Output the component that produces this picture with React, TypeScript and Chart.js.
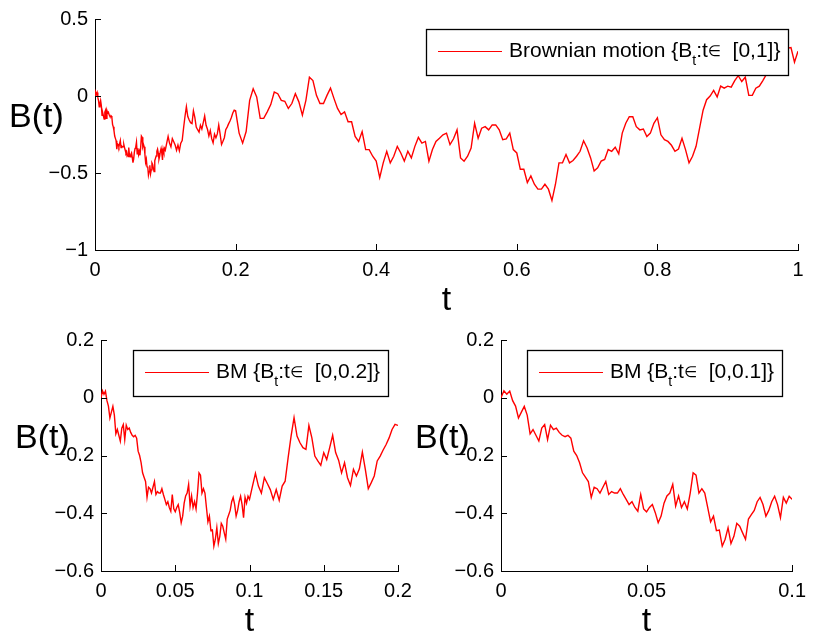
import React, { useEffect, useRef } from "react";
import { Chart, registerables } from "chart.js";

Chart.register(...registerables);

// ---------- DATA (one Brownian path) ----------
// B(t) for t = 0 .. 0.1, step 0.001
const STEP_EARLY = 0.001;
const pathEarly = [
  0.0, 0.024, 0.012, 0.023, -0.01, -0.029, -0.07, -0.05, -0.03, -0.06,
  -0.125, -0.11, -0.13, -0.15, -0.105, -0.093, -0.145, -0.095, -0.11, -0.105,
  -0.12, -0.13, -0.135, -0.13, -0.14, -0.185, -0.2, -0.225, -0.26, -0.275,
  -0.29, -0.345, -0.31, -0.315, -0.33, -0.31, -0.29, -0.335, -0.325, -0.33,
  -0.33, -0.315, -0.335, -0.352, -0.37, -0.36, -0.38, -0.393, -0.335, -0.385,
  -0.395, -0.38, -0.37, -0.398, -0.433, -0.41, -0.365, -0.34, -0.33, -0.3,
  -0.375, -0.34, -0.38, -0.36, -0.385, -0.33, -0.26, -0.268, -0.33, -0.315,
  -0.33, -0.38, -0.43, -0.41, -0.46, -0.458, -0.514, -0.49, -0.45, -0.505,
  -0.48, -0.435, -0.445, -0.468, -0.49, -0.42, -0.405, -0.39, -0.36, -0.345,
  -0.37, -0.41, -0.39, -0.36, -0.341, -0.37, -0.415, -0.345, -0.365, -0.341,
  -0.352,
];
// B(t) for t = 0.102 .. 0.2, step 0.002
const START_MID = 0.1;
const STEP_MID = 0.002;
const pathMid = [
  -0.306, -0.262, -0.306, -0.33, -0.277, -0.297, -0.318, -0.352, -0.318, -0.355,
  -0.306, -0.289, -0.208, -0.133, -0.069, -0.133, -0.156, -0.173, -0.179, -0.096,
  -0.139, -0.202, -0.219, -0.234, -0.19, -0.214, -0.173, -0.13, -0.19, -0.216,
  -0.26, -0.225, -0.277, -0.304, -0.248, -0.271, -0.246, -0.188, -0.248, -0.315,
  -0.294, -0.271, -0.219, -0.202, -0.181, -0.162, -0.139, -0.11, -0.092, -0.096,
];
// B(t) for t = 0.205 .. 1, step 0.005
const START_LATE = 0.2;
const STEP_LATE = 0.005;
const pathLate = [
  -0.241, -0.306, -0.231, -0.028, 0.047, -0.006, -0.145, -0.145, -0.103, -0.056,
  0.026, 0.015, -0.028, -0.034, -0.081, -0.049, 0.015, -0.038, -0.124, -0.028,
  0.122, 0.1, 0.004, -0.049, -0.049, 0.004, 0.051, -0.017, -0.081, -0.12,
  -0.103, -0.167, -0.167, -0.263, -0.295, -0.231, -0.348, -0.348, -0.391, -0.423,
  -0.53, -0.434, -0.359, -0.434, -0.391, -0.327, -0.37, -0.423, -0.359, -0.402,
  -0.327, -0.269, -0.306, -0.295, -0.423, -0.348, -0.295, -0.274, -0.252, -0.241,
  -0.316, -0.278, -0.22, -0.402, -0.423, -0.391, -0.338, -0.177, -0.274, -0.209,
  -0.199, -0.22, -0.188, -0.188, -0.22, -0.284, -0.278, -0.241, -0.348, -0.37,
  -0.476, -0.476, -0.562, -0.519, -0.573, -0.605, -0.605, -0.573, -0.605, -0.679,
  -0.573, -0.434, -0.434, -0.38, -0.434, -0.419, -0.391, -0.359, -0.291, -0.338,
  -0.402, -0.487, -0.466, -0.423, -0.412, -0.348, -0.359, -0.333, -0.376, -0.241,
  -0.177, -0.135, -0.135, -0.199, -0.22, -0.214, -0.263, -0.241, -0.177, -0.141,
  -0.252, -0.284, -0.295, -0.32, -0.359, -0.344, -0.274, -0.348, -0.434, -0.391,
  -0.327, -0.209, -0.092, -0.024, 0.0, 0.036, -0.006, 0.064, 0.051, 0.064,
  0.058, 0.1, 0.132, 0.094, 0.122, 0.004, 0.004, 0.051, 0.064, 0.1,
  0.14, 0.17, 0.2, 0.22, 0.26, 0.28, 0.31, 0.314, 0.22, 0.29,
];

// tick labels
const topXTicks = [0, 0.2, 0.4, 0.6, 0.8, 1];
const topYTicks = [-1, -0.5, 0, 0.5];
const leftXTicks = [0, 0.05, 0.1, 0.15, 0.2];
const rightXTicks = [0, 0.05, 0.1];
const bottomYTicks = [-0.6, -0.4, -0.2, 0, 0.2];

// legend texts: pre, subscript, middle, symbol, post
const legendTop = ["Brownian motion {B", "t", ":t", "\u2208", "  [0,1]}"];
const legendLeft = ["BM {B", "t", ":t", "\u2208", "  [0,0.2]}"];
const legendRight = ["BM {B", "t", ":t", "\u2208", "  [0,0.1]}"];

const yTitle = "B(t)";
const xTitle = "t";

// ---------- build point lists ----------
const ptsEarly = pathEarly.map((y, i) => ({ x: i * STEP_EARLY, y }));
const ptsMid = pathMid.map((y, i) => ({ x: START_MID + (i + 1) * STEP_MID, y }));
const ptsLate = pathLate.map((y, i) => ({ x: START_LATE + (i + 1) * STEP_LATE, y }));
const fullPath = [...ptsEarly, ...ptsMid, ...ptsLate];
const firstFifth = [...ptsEarly, ...ptsMid];
const firstTenth = [...ptsEarly];

const FONT = '"Liberation Sans", Arial, Helvetica, sans-serif';
const RED = "#ff0000";

const fmt = (v: number) => String(Math.round(v * 1000) / 1000).replace("-", "\u2212");

type PanelProps = {
  left: number;
  top: number;
  width: number;
  height: number;
  yWidth: number;
  xHeight: number;
  padTop: number;
  padRight: number;
  points: { x: number; y: number }[];
  xTicks: number[];
  yTicks: number[];
  xMin: number;
  xMax: number;
  yMin: number;
  yMax: number;
  legend: string[];
};

function Panel(p: PanelProps) {
  const ref = useRef<HTMLCanvasElement>(null);
  useEffect(() => {
    const decor = {
      id: "decor",
      afterDatasetsDraw(chart: any) {
        const { ctx, chartArea: ca } = chart;
        const xs = chart.scales.x;
        const ys = chart.scales.y;
        ctx.save();
        // inward tick marks
        ctx.strokeStyle = "#000";
        ctx.lineWidth = 1;
        ctx.beginPath();
        p.xTicks.forEach((v) => {
          const px = Math.round(xs.getPixelForValue(v)) + 0.5;
          ctx.moveTo(px, ca.bottom);
          ctx.lineTo(px, ca.bottom - 6);
        });
        p.yTicks.forEach((v) => {
          const py = Math.round(ys.getPixelForValue(v)) + 0.5;
          ctx.moveTo(ca.left, py);
          ctx.lineTo(ca.left + 6, py);
        });
        ctx.stroke();

        // axis titles
        ctx.fillStyle = "#000";
        ctx.font = `34px ${FONT}`;
        ctx.textBaseline = "alphabetic";
        ctx.textAlign = "left";
        ctx.fillText(yTitle, ca.left - 86, (ca.top + ca.bottom) / 2 - 7.5);
        ctx.textAlign = "center";
        ctx.fillText(xTitle, (ca.left + ca.right) / 2, ca.bottom + 60);

        // legend box
        const [pre, sub, mid, sym, post] = p.legend;
        const fs = 21;
        const mainFont = `${fs}px ${FONT}`;
        const subFont = `14px ${FONT}`;
        const symFont = `15px "DejaVu Sans", ${FONT}`;
        ctx.textAlign = "left";
        ctx.font = mainFont;
        const w1 = ctx.measureText(pre).width;
        const w3 = ctx.measureText(mid).width;
        const w5 = ctx.measureText(post).width;
        ctx.font = subFont;
        const w2 = ctx.measureText(sub).width;
        ctx.font = symFont;
        const w4 = ctx.measureText(sym).width;
        const textW = w1 + w2 + w3 + w4 + w5;
        const boxW = Math.round(12 + 64 + 7 + textW + 8);
        const boxH = 46;
        const bx = Math.round(ca.right - 10 - boxW);
        const by = Math.round(ca.top + 10);
        ctx.fillStyle = "#fff";
        ctx.fillRect(bx, by, boxW, boxH);
        ctx.strokeStyle = "#000";
        ctx.lineWidth = 1.3;
        ctx.strokeRect(bx + 0.5, by + 0.5, boxW, boxH);
        ctx.strokeStyle = RED;
        ctx.lineWidth = 1;
        ctx.beginPath();
        ctx.moveTo(bx + 12, by + 22.5);
        ctx.lineTo(bx + 76, by + 22.5);
        ctx.stroke();
        ctx.fillStyle = "#000";
        let tx = bx + 83;
        const base = by + 27.5;
        ctx.font = mainFont;
        ctx.fillText(pre, tx, base);
        tx += w1;
        ctx.font = subFont;
        ctx.fillText(sub, tx, base + 8);
        tx += w2;
        ctx.font = mainFont;
        ctx.fillText(mid, tx, base);
        tx += w3;
        ctx.font = symFont;
        ctx.fillText(sym, tx, base - 1);
        tx += w4;
        ctx.font = mainFont;
        ctx.fillText(post, tx, base);
        ctx.restore();
      },
    };

    const tickFont = { family: FONT, size: 20 };
    const chart = new Chart(ref.current as HTMLCanvasElement, {
      type: "line",
      data: {
        datasets: [
          {
            data: p.points as any,
            borderColor: RED,
            borderWidth: 1.4,
            pointRadius: 0,
            tension: 0,
            fill: false,
          },
        ],
      },
      options: {
        animation: false,
        responsive: false,
        maintainAspectRatio: false,
        events: [],
        layout: { padding: { left: 0, top: p.padTop, right: p.padRight, bottom: 0 } },
        plugins: { legend: { display: false }, tooltip: { enabled: false } },
        scales: {
          x: {
            type: "linear",
            min: p.xMin,
            max: p.xMax,
            afterBuildTicks: (s: any) => {
              s.ticks = p.xTicks.map((v) => ({ value: v }));
            },
            afterFit: (s: any) => {
              s.height = p.xHeight;
            },
            grid: { drawOnChartArea: false, drawTicks: false, color: "#000" },
            border: { color: "#000", width: 1 },
            ticks: {
              padding: 8,
              color: "#000",
              font: tickFont,
              maxRotation: 0,
              autoSkip: false,
              callback: (v: any) => fmt(Number(v)),
            },
          },
          y: {
            type: "linear",
            min: p.yMin,
            max: p.yMax,
            afterBuildTicks: (s: any) => {
              s.ticks = p.yTicks.map((v) => ({ value: v }));
            },
            afterFit: (s: any) => {
              s.width = p.yWidth;
            },
            grid: { drawOnChartArea: false, drawTicks: false, color: "#000" },
            border: { color: "#000", width: 1 },
            ticks: {
              padding: 7,
              color: "#000",
              font: tickFont,
              autoSkip: false,
              callback: (v: any) => fmt(Number(v)),
            },
          },
        },
      } as any,
      plugins: [decor],
    });
    return () => chart.destroy();
  }, []);
  return (
    <canvas
      ref={ref}
      width={p.width}
      height={p.height}
      style={{ position: "absolute", left: p.left, top: p.top, width: p.width, height: p.height }}
    />
  );
}

export default function App() {
  return (
    <div style={{ position: "absolute", left: 0, top: 0, width: 814, height: 636, background: "#fff" }}>
      <Panel
        left={0}
        top={0}
        width={814}
        height={320}
        yWidth={95}
        xHeight={70}
        padTop={17}
        padRight={16}
        points={fullPath}
        xTicks={topXTicks}
        yTicks={topYTicks}
        xMin={0}
        xMax={1}
        yMin={-1}
        yMax={0.5}
        legend={legendTop}
      />
      <Panel
        left={0}
        top={320}
        width={420}
        height={316}
        yWidth={101}
        xHeight={65}
        padTop={20}
        padRight={22}
        points={firstFifth}
        xTicks={leftXTicks}
        yTicks={bottomYTicks}
        xMin={0}
        xMax={0.2}
        yMin={-0.6}
        yMax={0.2}
        legend={legendLeft}
      />
      <Panel
        left={405}
        top={320}
        width={409}
        height={316}
        yWidth={96}
        xHeight={65}
        padTop={20}
        padRight={17}
        points={firstTenth}
        xTicks={rightXTicks}
        yTicks={bottomYTicks}
        xMin={0}
        xMax={0.1}
        yMin={-0.6}
        yMax={0.2}
        legend={legendRight}
      />
    </div>
  );
}
